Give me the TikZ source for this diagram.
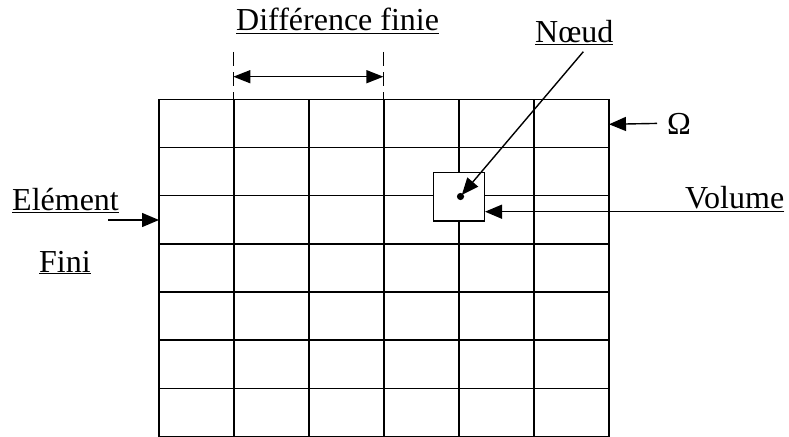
\documentclass[tikz,border=0pt]{standalone}
\usepackage{fontspec}
\setmainfont{Liberation Serif}
\usepackage{tikz}
\usetikzlibrary{arrows.meta,positioning}

\begin{document}
\begin{tikzpicture}[
  x=1pt,y=-1pt,
  gridline/.style={line width=1.6pt},
  lbl/.style={font=\fontsize{32}{38}\selectfont,inner sep=0pt},
  ptr/.style={line width=1.4pt,-{Triangle[length=17pt,width=14pt]}}
]
  \useasboundingbox (0,0) rectangle (789,436);
  % maillage
  \foreach \i in {0,...,6}
    \draw[gridline] (159+75*\i,99.3) -- (159+75*\i,436.5);
  \foreach \j in {0,...,7}
    \draw[gridline] (159,99.3+48.17*\j) -- (609,99.3+48.17*\j);
  \node[draw,fill=white,line width=1.4pt,minimum width=51pt,minimum height=48.5pt,inner sep=0pt] (vol) at (458.8,196.6) {};
  \coordinate (nd) at (460.5,196.5);
  \fill (nd) circle (3.6pt);

  % textes
  \node[lbl,anchor=base west] (diff) at (236,31) {\underline{Différence finie}};
  \node[lbl,anchor=base west] (noeud) at (535,42) {\underline{Nœud}};
  \node[lbl,anchor=base west] (omega) at (667,134) {Ω};
  \node[lbl,anchor=base west] (volume) at (685,208) {Volume};
  \node[lbl,anchor=base west] (elem) at (12,210) {\underline{Elément}};
  \node[lbl,anchor=base west] (fini) at (39,272) {\underline{Fini}};

  % fleches
  \coordinate (dl) at (233.3,76.7);
  \coordinate (dr) at (383.4,76.7);
  \draw[line width=1.2pt,dash pattern=on 14pt off 6pt] (233.3,52) -- (233.3,99.3);
  \draw[line width=1.2pt,dash pattern=on 14pt off 6pt] (383.4,52) -- (383.4,99.3);
  \draw[line width=1.4pt,{Triangle[length=17pt,width=13pt]}-{Triangle[length=17pt,width=13pt]}] (dl) -- (dr);
  \draw[ptr,shorten >=2pt] (583.3,51.7) -- (nd);
  \draw[ptr] (omega.west) ++(-10,0) -- (609,124.3);
  \coordinate (vu) at ([yshift=-3.7pt]volume.base east);
  \draw[ptr] (vu) -- (vu -| vol.east);
  \draw[ptr] (108,220) -- (159,220);
\end{tikzpicture}
\end{document}
